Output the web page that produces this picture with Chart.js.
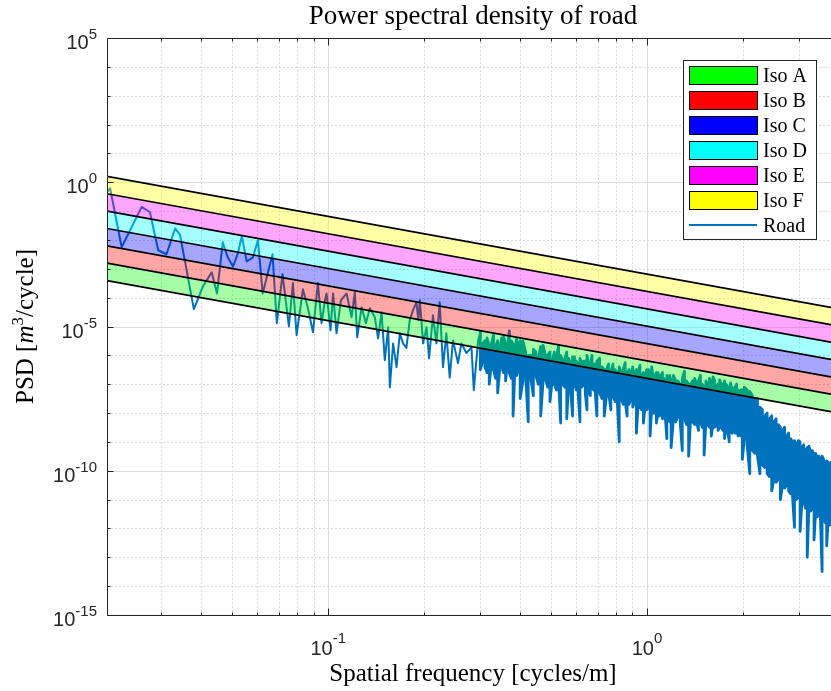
<!DOCTYPE html>
<html>
<head>
<meta charset="utf-8">
<title>Power spectral density of road</title>
<script src="https://cdn.jsdelivr.net/npm/chart.js@4/dist/chart.umd.min.js"></script>
<style>
  html, body { margin: 0; padding: 0; background: #ffffff; overflow: hidden; width: 831px; height: 691px; }
  canvas { display: block; }
</style>
</head>
<body>
<canvas id="psd" width="840" height="691"></canvas>
<script>
// Axis limits and tick labels
const freqMin = 0.02024, freqMax = 4.0;
const psdMin = 1e-15, psdMax = 1e5;
const xTickValues = [0.1, 1];
const xTickLabels = [['10', '-1'], ['10', '0']];
const yTickValues = [1e5, 1e0, 1e-5, 1e-10, 1e-15];
const yTickLabels = [['10', '5'], ['10', '0'], ['10', '-5'], ['10', '-10'], ['10', '-15']];

// ISO 8608 road classes: boundary levels Gd(n0) at n0 = 0.1 cycles/m, waviness w = 2
const isoNames = ['Iso A', 'Iso B', 'Iso C', 'Iso D', 'Iso E', 'Iso F'];
const isoColors = ['#00ff00', '#ff0000', '#0000ff', '#00ffff', '#ff00ff', '#ffff00'];
const isoBounds = [16e-6, 64e-6, 256e-6, 1024e-6, 4096e-6, 16384e-6, 65536e-6];
const isoN0 = 0.1;
const isoWaviness = 2;

// Road spectrum, low wavenumbers (individual samples)
const roadFreq = [
  0.0202, 0.0207, 0.0225, 0.0260, 0.0276, 0.0293, 0.0311, 0.0331, 0.0343, 0.0379,
  0.0405, 0.0431, 0.0448, 0.0467, 0.0484, 0.0503, 0.0521, 0.0536, 0.0555, 0.0581,
  0.0602, 0.0623, 0.0669, 0.0690, 0.0719, 0.0753, 0.0775, 0.0796, 0.0833, 0.0864,
  0.0896, 0.0928, 0.0953, 0.0976, 0.0988, 0.1017, 0.1036, 0.1062, 0.1096, 0.1142,
  0.1184, 0.1212, 0.1233, 0.1273, 0.1313, 0.1351, 0.1400, 0.1434, 0.1470, 0.1505,
  0.1542, 0.1561, 0.1598, 0.1638, 0.1677, 0.1717, 0.1759, 0.1802, 0.1845, 0.1892,
  0.1917, 0.1938, 0.1985, 0.2034, 0.2072, 0.2131, 0.2184, 0.2237, 0.2291, 0.2348,
  0.2405, 0.2463, 0.2553, 0.2616, 0.2713, 0.2814, 0.2862, 0.2953
];
const roadPsd = [
  4.5e-1, 6.2e-1, 5.6e-3, 1.4e-1, 9.1e-2, 4.4e-3, 3.2e-3, 2.5e-2, 1.5e-2, 4.0e-5,
  2.5e-4, 7.6e-4, 1.4e-4, 8.3e-3, 2.5e-3, 1.2e-3, 3.5e-3, 1.35e-2, 1.8e-3, 2.5e-3,
  9.8e-3, 1.4e-4, 3.2e-3, 1.3e-5, 6.5e-4, 1.0e-5, 3.2e-4, 5.0e-6, 1.95e-4, 4.3e-5,
  6.3e-6, 3.2e-4, 1.3e-5, 7.5e-5, 1.4e-4, 7.4e-6, 1.4e-4, 5.8e-6, 8.1e-5, 1.4e-4,
  2.1e-5, 1.55e-4, 4.2e-6, 4.6e-5, 1.3e-5, 4.3e-5, 2.1e-5, 3.9e-6, 3.1e-5, 6.8e-7,
  9.4e-6, 7.8e-8, 2.6e-6, 3.9e-7, 5.8e-6, 2.6e-6, 1.8e-6, 1.65e-5, 3.7e-5, 6.9e-5,
  1.65e-5, 8.1e-5, 2.6e-6, 9.4e-6, 7.9e-7, 2.45e-5, 2.6e-6, 6.9e-5, 3.9e-7, 5.8e-6,
  1.7e-7, 3.3e-6, 5.4e-7, 2.6e-6, 1.2e-6, 1.9e-6, 6.2e-8, 3.3e-6
];

// Road spectrum, high wavenumbers: per-bin maximum and minimum of the dense samples
const roadBinFreq = [
  0.300, 0.305, 0.310, 0.315, 0.320, 0.325, 0.330, 0.335, 0.340, 0.345,
  0.350, 0.355, 0.360, 0.365, 0.370, 0.375, 0.380, 0.385, 0.390, 0.395, 0.400,
  0.408, 0.416, 0.424, 0.432, 0.440, 0.448, 0.456, 0.464, 0.472, 0.480,
  0.488, 0.496, 0.504, 0.512, 0.520, 0.528, 0.536, 0.544, 0.552, 0.560,
  0.568, 0.576, 0.584, 0.592, 0.600, 0.608, 0.616, 0.624, 0.632, 0.640,
  0.648, 0.656, 0.664, 0.672, 0.680, 0.688, 0.696,
  0.710, 0.722, 0.734, 0.746, 0.758, 0.770, 0.782, 0.794, 0.806, 0.818,
  0.830, 0.842, 0.854, 0.866, 0.878, 0.890, 0.902, 0.914, 0.926, 0.938,
  0.950, 0.962, 0.974, 0.986, 0.998, 1.010, 1.022, 1.034, 1.046, 1.058,
  1.070, 1.082, 1.094, 1.106, 1.118, 1.130, 1.142, 1.154, 1.166, 1.178, 1.190,
  1.21, 1.23, 1.25, 1.27, 1.29, 1.31, 1.33, 1.35, 1.37, 1.39,
  1.41, 1.43, 1.45, 1.47, 1.49, 1.51, 1.53, 1.55, 1.57, 1.59,
  1.61, 1.63, 1.65, 1.67, 1.69, 1.71, 1.73, 1.75, 1.77, 1.79,
  1.81, 1.83, 1.85, 1.87, 1.89, 1.91, 1.93, 1.95, 1.97, 1.99,
  2.02, 2.06, 2.10, 2.14, 2.18, 2.22, 2.26, 2.30, 2.34, 2.38,
  2.42, 2.46, 2.50, 2.54, 2.58, 2.62, 2.66, 2.70, 2.74, 2.78,
  2.82, 2.86, 2.90, 2.94, 2.98, 3.02, 3.06, 3.10, 3.14, 3.18,
  3.22, 3.26, 3.30, 3.34, 3.38, 3.42, 3.46, 3.50, 3.54, 3.58,
  3.62, 3.66, 3.70, 3.74, 3.78, 3.82, 3.86
];
const roadBinMax = [
  6.3e-6, 2.5e-6, 3.2e-6, 4.0e-6, 2.0e-6, 2.5e-6, 5.0e-6, 2.0e-6, 3.2e-6, 1.6e-6,
  4.0e-6, 4.5e-6, 2.5e-6, 2.0e-6, 7.1e-6, 3.2e-6, 2.5e-6, 1.3e-6, 4.0e-6, 2.5e-6, 3.2e-6,
  3.2e-6, 1.3e-6, 1.0e-6, 1.0e-6, 1.6e-6, 1.3e-6, 7.9e-7, 2.0e-6, 2.2e-6, 1.0e-6,
  1.0e-6, 1.3e-6, 6.3e-7, 1.3e-6, 7.9e-7, 2.2e-6, 1.0e-6, 6.3e-7, 7.9e-7, 1.3e-6,
  7.9e-7, 5.0e-7, 8.9e-7, 8.9e-7, 6.3e-7, 5.0e-7, 7.9e-7, 5.0e-7, 6.3e-7, 6.3e-7,
  1.0e-6, 5.0e-7, 4.0e-7, 1.0e-6, 5.0e-7, 5.0e-7, 6.3e-7,
  7.9e-7, 4.0e-7, 3.2e-7, 3.2e-7, 5.0e-7, 2.5e-7, 5.0e-7, 3.2e-7, 2.5e-7, 4.0e-7,
  2.5e-7, 3.2e-7, 5.6e-7, 2.5e-7, 3.2e-7, 2.0e-7, 4.0e-7, 2.5e-7, 3.2e-7, 2.5e-7,
  4.5e-7, 2.0e-7, 2.5e-7, 1.6e-7, 3.2e-7, 3.2e-7, 2.0e-7, 4.0e-7, 1.6e-7, 2.0e-7,
  2.5e-7, 2.5e-7, 1.3e-7, 2.0e-7, 2.5e-7, 1.6e-7, 1.3e-7, 2.0e-7, 1.6e-7, 2.0e-7, 1.3e-7,
  2.0e-7, 1.3e-7, 1.3e-7, 1.0e-7, 1.6e-7, 2.8e-7, 1.3e-7, 1.0e-7, 1.0e-7, 1.3e-7,
  1.6e-7, 1.0e-7, 1.3e-7, 2.0e-7, 1.0e-7, 7.9e-8, 1.3e-7, 1.0e-7, 1.6e-7, 1.0e-7,
  1.8e-7, 1.3e-7, 7.9e-8, 1.0e-7, 1.4e-7, 1.0e-7, 7.9e-8, 1.3e-7, 1.0e-7, 7.9e-8,
  6.3e-8, 1.1e-7, 7.9e-8, 6.3e-8, 7.9e-8, 1.0e-7, 6.3e-8, 5.0e-8, 6.3e-8, 6.3e-8,
  7.9e-8, 6.3e-8, 5.6e-8, 4.0e-8, 3.2e-8, 3.2e-8, 1.6e-8, 1.3e-8, 7.9e-9, 1.0e-8,
  6.3e-9, 7.9e-9, 5.0e-9, 6.3e-9, 4.0e-9, 3.2e-9, 2.5e-9, 3.2e-9, 1.6e-9, 2.0e-9,
  1.3e-9, 1.0e-9, 1.1e-9, 7.9e-10, 1.1e-9, 1.0e-9, 6.3e-10, 7.9e-10, 5.0e-10, 6.3e-10,
  7.1e-10, 4.0e-10, 5.0e-10, 3.2e-10, 4.0e-10, 2.5e-10, 3.2e-10, 2.0e-10, 3.2e-10, 2.5e-10,
  1.6e-10, 2.2e-10, 2.0e-10, 1.3e-10, 2.0e-10, 1.6e-10, 1.3e-10
];
const roadBinMin = [
  3.2e-7, 6.3e-7, 4.0e-7, 2.5e-7, 1.0e-7, 5.0e-7, 3.2e-7, 1.6e-7, 5.0e-8, 3.2e-7,
  4.0e-7, 2.5e-7, 1.3e-7, 5.0e-7, 2.5e-7, 1.6e-7, 7.9e-9, 3.2e-7, 2.0e-7, 4.0e-7, 3.2e-8,
  1.3e-7, 2.0e-7, 5.0e-9, 1.6e-7, 4.0e-8, 2.0e-7, 1.0e-7, 7.9e-9, 1.3e-7, 1.6e-7,
  7.9e-8, 2.5e-8, 1.3e-7, 1.0e-7, 6.3e-8, 1.3e-7, 4.5e-9, 1.0e-7, 7.9e-8, 6.3e-9,
  1.3e-7, 6.3e-8, 7.9e-9, 1.0e-7, 6.3e-8, 5.0e-8, 5.0e-9, 7.9e-8, 1.0e-7, 5.0e-8,
  1.3e-8, 6.3e-8, 4.0e-8, 7.9e-8, 6.3e-8, 5.0e-8, 7.9e-9,
  5.0e-8, 3.2e-8, 7.9e-9, 4.0e-8, 5.0e-8, 1.3e-8, 4.0e-8, 2.5e-8, 3.2e-8, 1.0e-9,
  3.2e-8, 2.0e-8, 2.5e-8, 7.9e-9, 2.0e-8, 3.2e-8, 1.6e-8, 2.5e-8, 2.0e-9, 2.0e-8,
  1.6e-8, 1.3e-8, 4.5e-9, 1.6e-8, 1.3e-8, 1.6e-8, 1.6e-9, 1.3e-8, 1.0e-8, 1.0e-8,
  4.5e-9, 1.0e-8, 7.9e-9, 1.0e-8, 6.3e-9, 7.9e-9, 6.3e-9, 1.3e-9, 7.9e-9, 5.0e-9, 6.3e-10,
  6.3e-9, 5.0e-9, 7.9e-9, 5.0e-9, 5.0e-10, 6.3e-9, 4.0e-9, 3.2e-10, 6.3e-9, 5.0e-9,
  4.0e-9, 5.0e-9, 2.5e-9, 5.0e-9, 3.2e-9, 3.5e-10, 5.0e-9, 4.0e-9, 3.2e-9, 1.6e-9,
  4.0e-9, 3.2e-9, 4.0e-9, 2.5e-9, 3.2e-9, 3.2e-9, 2.5e-9, 1.3e-9, 3.2e-9, 2.5e-9,
  1.0e-9, 2.5e-9, 2.0e-9, 2.5e-9, 2.0e-9, 2.5e-9, 1.6e-9, 2.0e-9, 1.6e-9, 2.5e-10,
  1.3e-9, 7.9e-10, 7.9e-11, 5.0e-10, 4.0e-10, 3.2e-10, 7.9e-11, 1.6e-10, 1.3e-10, 7.9e-11,
  6.3e-11, 2.0e-11, 5.0e-11, 4.0e-11, 5.0e-11, 1.0e-11, 3.2e-11, 2.5e-11, 3.2e-11, 2.0e-11,
  1.6e-11, 1.3e-11, 1.1e-12, 1.0e-11, 1.3e-11, 7.9e-13, 7.9e-12, 1.0e-11, 5.0e-12, 1.0e-13,
  6.3e-12, 4.0e-12, 5.0e-12, 4.0e-13, 4.0e-12, 2.5e-12, 3.2e-12, 2.0e-12, 3.2e-14, 2.5e-12,
  1.6e-12, 2.5e-13, 2.0e-12, 1.3e-12, 1.6e-12, 1.0e-12, 1.3e-12
];

const roadColor = '#0072bd';
const axisColor = '#262626';
const serif = '"Liberation Serif", "Times New Roman", serif';
const sans = '"Liberation Sans", Arial, sans-serif';

function withAlpha(hex, a) {
  const r = parseInt(hex.slice(1, 3), 16), g = parseInt(hex.slice(3, 5), 16), b = parseInt(hex.slice(5, 7), 16);
  return `rgba(${r},${g},${b},${a})`;
}

// Straight ISO boundary line across the frequency range: Gd(n) = Gd(n0) * (n/n0)^-w
function isoLine(g0) {
  return [freqMin, freqMax].map(n => ({ x: n, y: g0 * Math.pow(n / isoN0, -isoWaviness) }));
}

// Road trace: single samples, then each dense bin drawn as a vertical max/min stroke
const roadPoints = roadFreq.map((f, i) => ({ x: f, y: roadPsd[i] }));
roadBinFreq.forEach((f, i) => {
  const hi = { x: f, y: roadBinMax[i] }, lo = { x: f, y: roadBinMin[i] };
  if (i % 2 === 0) roadPoints.push(hi, lo); else roadPoints.push(lo, hi);
});
const denseStart = roadFreq.length;

const datasets = isoBounds.map((g0, i) => ({
  label: i === 0 ? 'bound' : isoNames[i - 1],
  data: isoLine(g0),
  borderColor: '#000000',
  borderWidth: 1.7,
  pointRadius: 0,
  fill: i === 0 ? false : '-1',
  backgroundColor: i === 0 ? 'rgba(0,0,0,0)' : withAlpha(isoColors[i - 1], 0.35),
  order: 0
}));
datasets.push({
  label: 'Road',
  data: roadPoints,
  borderColor: roadColor,
  borderWidth: 2,
  borderJoinStyle: 'round',
  pointRadius: 0,
  fill: false,
  tension: 0,
  order: 1,
  segment: {
    borderWidth: ctx => (ctx.p0DataIndex >= denseStart ? 2.8 : 2)
  }
});

function decadesBetween(lo, hi) {
  const out = [];
  for (let e = Math.ceil(Math.log10(lo) - 1e-9); e <= Math.floor(Math.log10(hi) + 1e-9); e++) out.push(e);
  return out;
}

// Grid lines behind the data
const gridPlugin = {
  id: 'matlabGrid',
  beforeDraw(chart) {
    const ctx = chart.ctx;
    ctx.save();
    ctx.fillStyle = '#ffffff';
    ctx.fillRect(0, 0, chart.width, chart.height);
    ctx.restore();
  },
  beforeDatasetsDraw(chart) {
    const { ctx, chartArea: a, scales: { x, y } } = chart;
    ctx.save();
    ctx.lineWidth = 1;
    for (let e = -2; e <= 0; e++) {
      for (let m = 1; m <= 9; m++) {
        const v = m * Math.pow(10, e);
        if (v < freqMin || v > freqMax) continue;
        const px = Math.round(x.getPixelForValue(v)) + 0.5;
        if (m === 1) { ctx.setLineDash([]); ctx.strokeStyle = '#dedede'; }
        else { ctx.setLineDash([2, 2]); ctx.strokeStyle = '#d9d9d9'; }
        ctx.beginPath(); ctx.moveTo(px, a.top); ctx.lineTo(px, a.bottom); ctx.stroke();
      }
    }
    decadesBetween(psdMin, psdMax).forEach(e => {
      const py = Math.round(y.getPixelForValue(Math.pow(10, e))) + 0.5;
      if (e % 5 === 0) { ctx.setLineDash([]); ctx.strokeStyle = '#dedede'; }
      else { ctx.setLineDash([2, 2]); ctx.strokeStyle = '#d9d9d9'; }
      ctx.beginPath(); ctx.moveTo(a.left, py); ctx.lineTo(a.right, py); ctx.stroke();
    });
    ctx.restore();
  }
};

function drawPowerLabel(ctx, base, exp, x, y, align, baseSize, expSize, expRise) {
  ctx.font = `${baseSize}px ${sans}`;
  const wb = ctx.measureText(base).width;
  ctx.font = `${expSize}px ${sans}`;
  const we = ctx.measureText(exp).width;
  const start = align === 'right' ? x - wb - we : x - (wb + we) / 2;
  ctx.textAlign = 'left';
  ctx.textBaseline = 'alphabetic';
  ctx.font = `${baseSize}px ${sans}`;
  ctx.fillText(base, start, y);
  ctx.font = `${expSize}px ${sans}`;
  ctx.fillText(exp, start + wb, y - expRise);
}

// Axes box, ticks, labels, title and legend on top
const frameAndTextPlugin = {
  id: 'frameAndText',
  afterDatasetsDraw(chart) {
    const { ctx, chartArea: a, scales: { x, y } } = chart;
    ctx.save();
    ctx.strokeStyle = axisColor;
    ctx.lineWidth = 1;
    ctx.setLineDash([]);
    const L = Math.round(a.left) + 0.5, R = Math.round(a.right) - 0.5;
    const T = Math.round(a.top) + 0.5, B = Math.round(a.bottom) + 0.5;
    ctx.beginPath();
    ctx.moveTo(L, T); ctx.lineTo(R, T); ctx.lineTo(R, B); ctx.lineTo(L, B); ctx.closePath();
    ctx.stroke();
    for (let e = -2; e <= 0; e++) {
      for (let m = 1; m <= 9; m++) {
        const v = m * Math.pow(10, e);
        if (v < freqMin || v > freqMax) continue;
        const px = Math.round(x.getPixelForValue(v)) + 0.5;
        const len = m === 1 ? 7 : 3;
        ctx.beginPath();
        ctx.moveTo(px, B); ctx.lineTo(px, B - len);
        ctx.moveTo(px, T); ctx.lineTo(px, T + len);
        ctx.stroke();
      }
    }
    decadesBetween(psdMin, psdMax).forEach(e => {
      const py = Math.round(y.getPixelForValue(Math.pow(10, e))) + 0.5;
      const len = e % 5 === 0 ? 6 : 3;
      ctx.beginPath();
      ctx.moveTo(L, py); ctx.lineTo(L + len, py);
      ctx.moveTo(R, py); ctx.lineTo(R - len, py);
      ctx.stroke();
    });
    ctx.restore();
  },
  afterDraw(chart) {
    const { ctx, chartArea: a, scales: { x, y } } = chart;
    const cx = (a.left + a.right) / 2;
    ctx.save();
    ctx.fillStyle = axisColor;
    yTickValues.forEach((v, i) => {
      const py = y.getPixelForValue(v);
      drawPowerLabel(ctx, yTickLabels[i][0], yTickLabels[i][1], a.left - 10, py + 11, 'right', 20, 15, 10);
    });
    xTickValues.forEach((v, i) => {
      const px = x.getPixelForValue(v);
      drawPowerLabel(ctx, xTickLabels[i][0], xTickLabels[i][1], px, 655, 'center', 20, 15, 12);
    });
    ctx.fillStyle = '#000000';
    ctx.textAlign = 'center';
    ctx.textBaseline = 'alphabetic';
    ctx.font = `27px ${serif}`;
    ctx.fillText('Power spectral density of road', cx, 24);
    ctx.font = `25px ${serif}`;
    ctx.fillText('Spatial frequency [cycles/m]', cx, 681);
    const parts = [
      { t: 'PSD [', f: `25px ${serif}`, dy: 0 },
      { t: 'm', f: `italic 25px ${serif}`, dy: 0 },
      { t: '3', f: `17px ${serif}`, dy: -10 },
      { t: '/cycle]', f: `25px ${serif}`, dy: 0 }
    ];
    let total = 0;
    parts.forEach(p => { ctx.font = p.f; p.w = ctx.measureText(p.t).width; total += p.w; });
    ctx.translate(33, (a.top + a.bottom) / 2);
    ctx.rotate(-Math.PI / 2);
    ctx.textAlign = 'left';
    let sx = -total / 2;
    parts.forEach(p => { ctx.font = p.f; ctx.fillText(p.t, sx, p.dy); sx += p.w; });
    ctx.restore();

    // legend
    ctx.save();
    const bx = 683.5, by = 60.5, bw = 133, bh = 179;
    ctx.fillStyle = '#ffffff';
    ctx.fillRect(bx, by, bw, bh);
    ctx.strokeStyle = axisColor;
    ctx.lineWidth = 1;
    ctx.strokeRect(bx, by, bw, bh);
    const names = isoNames.concat(['Road']);
    ctx.font = `20px ${serif}`;
    ctx.textAlign = 'left';
    ctx.textBaseline = 'alphabetic';
    names.forEach((name, i) => {
      const cy = 75 + i * 25;
      if (i < isoNames.length) {
        ctx.fillStyle = isoColors[i];
        ctx.fillRect(689.5, cy - 8.5, 68, 18);
        ctx.strokeStyle = '#000000';
        ctx.lineWidth = 1;
        ctx.strokeRect(689.5, cy - 8.5, 68, 18);
      } else {
        ctx.strokeStyle = roadColor;
        ctx.lineWidth = 2;
        ctx.beginPath(); ctx.moveTo(689, cy); ctx.lineTo(757, cy); ctx.stroke();
      }
      ctx.fillStyle = '#000000';
      ctx.fillText(name, 763, cy + 7);
    });
    ctx.restore();
  }
};

new Chart(document.getElementById('psd'), {
  type: 'line',
  data: { datasets },
  options: {
    responsive: false,
    devicePixelRatio: 1,
    animation: false,
    layout: { padding: { left: 107, top: 38, right: 1, bottom: 76 } },
    scales: {
      x: { type: 'logarithmic', min: freqMin, max: freqMax, display: false },
      y: { type: 'logarithmic', min: psdMin, max: psdMax, display: false }
    },
    plugins: {
      legend: { display: false },
      tooltip: { enabled: false },
      title: { display: false }
    },
    elements: { line: { borderCapStyle: 'round' } }
  },
  plugins: [gridPlugin, frameAndTextPlugin]
});
</script>
</body>
</html>
